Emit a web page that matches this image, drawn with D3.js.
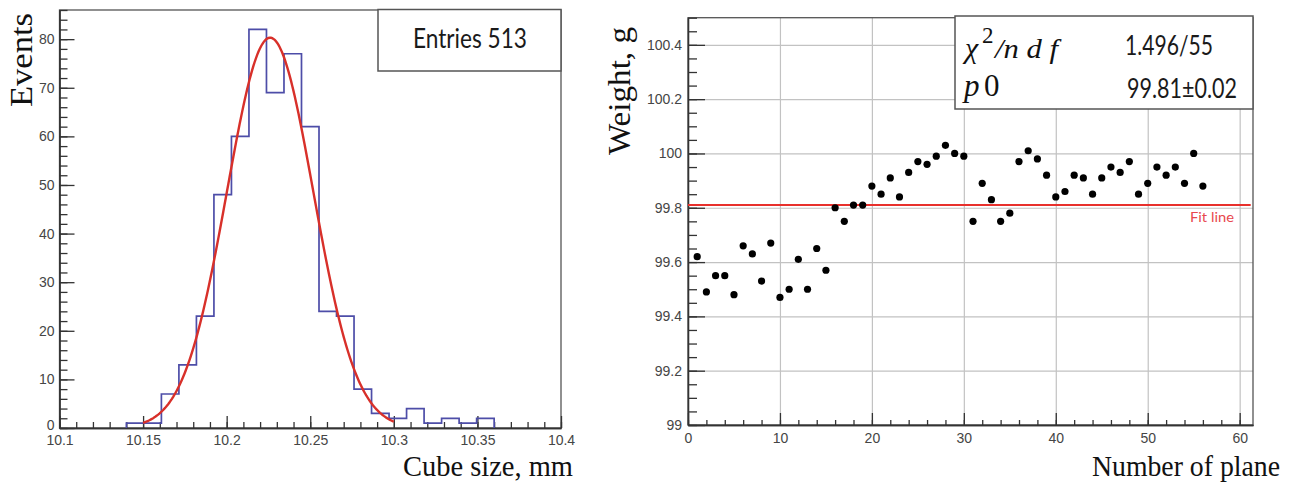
<!DOCTYPE html>
<html>
<head>
<meta charset="utf-8">
<script src="https://cdn.jsdelivr.net/npm/d3@7"></script>
<style>
  body { margin: 0; background: #fff; }
  svg { display: block; }
  .tick text { font-family: 'Liberation Sans', Arial, sans-serif; font-size: 14px; fill: #454545; }
  .axis path, .axis line { stroke: #333; stroke-width: 1.3; }
  .grid line { stroke: #c2c2c2; stroke-width: 1.2; }
  .grid path { display: none; }
  .title { font-family: 'Liberation Serif', 'Times New Roman', serif; fill: #111; }
  .stat { font-family: Lato, 'Open Sans', sans-serif; fill: #1a1a1a; }
</style>
</head>
<body>
<script>
// left: cube size histogram
let binStart = 10.14, binEnd = 10.36;
let counts = [1, 1, 7, 13, 23, 48, 60, 82, 69, 77, 62, 24, 23, 8, 3, 2, 4, 1, 2, 1, 2];
let gaus = { amp: 80.3, mean: 10.226, sigma: 0.0258, from: 10.15, to: 10.30 };
let entries = 513;
let xTicksL = [10.1, 10.15, 10.2, 10.25, 10.3, 10.35, 10.4];
let xLabelsL = ['10.1', '10.15', '10.2', '10.25', '10.3', '10.35', '10.4'];
let yTicksL = [0, 10, 20, 30, 40, 50, 60, 70, 80];

// right: weight per plane
let planes = d3.range(1, 57);
let weights = [99.62, 99.49, 99.55, 99.55, 99.48, 99.66, 99.63, 99.53, 99.67, 99.47,
  99.50, 99.61, 99.50, 99.65, 99.57, 99.80, 99.75, 99.81, 99.81, 99.88,
  99.85, 99.91, 99.84, 99.93, 99.97, 99.96, 99.99, 100.03, 100.00, 99.99,
  99.75, 99.89, 99.83, 99.75, 99.78, 99.97, 100.01, 99.98, 99.92, 99.84,
  99.86, 99.92, 99.91, 99.85, 99.91, 99.95, 99.93, 99.97, 99.85, 99.89,
  99.95, 99.92, 99.95, 99.89, 100.00, 99.88];
let fitValue = '99.81', fitError = '0.02', chi2 = '1.496', ndf = 55;
let xTicksR = [0, 10, 20, 30, 40, 50, 60];
let yTicksR = [99, 99.2, 99.4, 99.6, 99.8, 100, 100.2, 100.4];
let yLabelsR = ['99', '99.2', '99.4', '99.6', '99.8', '100', '100.2', '100.4'];

let svg = d3.select('body').append('svg')
    .attr('width', 1297)
    .attr('height', 483);

// ---------- left panel ----------
let lx = d3.scaleLinear().domain([10.1, 10.4]).range([59.5, 561]);
let ly = d3.scaleLinear().domain([0, 86]).range([428, 10]);

svg.append('rect')
    .attr('x', lx(10.1)).attr('y', ly(86))
    .attr('width', lx(10.4) - lx(10.1)).attr('height', ly(0) - ly(86))
    .attr('fill', 'none').attr('stroke', '#555').attr('stroke-width', 1.3);

svg.append('g').attr('class', 'axis')
    .attr('transform', 'translate(0,' + ly(0) + ')')
    .call(d3.axisBottom(lx).tickValues(d3.range(31).map(i => 10.1 + i * 0.01))
      .tickSize(-6).tickSizeOuter(0).tickFormat(''));
svg.append('g').attr('class', 'axis')
    .attr('transform', 'translate(0,' + ly(0) + ')')
    .call(d3.axisBottom(lx).tickValues(xTicksL).tickSize(-12).tickSizeOuter(0)
      .tickPadding(7).tickFormat((d, i) => xLabelsL[i]));

svg.append('g').attr('class', 'axis')
    .attr('transform', 'translate(' + lx(10.1) + ',0)')
    .call(d3.axisLeft(ly).tickValues(d3.range(0, 87, 2)).tickSize(-8).tickSizeOuter(0).tickFormat(''));
let yAxisL = svg.append('g').attr('class', 'axis')
    .attr('transform', 'translate(' + lx(10.1) + ',0)')
    .call(d3.axisLeft(ly).tickValues(yTicksL).tickSize(-15).tickSizeOuter(0).tickPadding(5));
// the zero label sits a little high, as in the original
yAxisL.selectAll('.tick text').filter(d => d === 0).attr('dy', '0.1em');

// histogram outline
let bw = (binEnd - binStart) / counts.length;
let steps = [[binStart, 0]];
counts.forEach(function(c, i) {
  steps.push([binStart + i * bw, c]);
  steps.push([binStart + (i + 1) * bw, c]);
});
steps.push([binEnd, 0]);

svg.append('path')
    .datum(steps)
    .attr('fill', 'none')
    .attr('stroke', '#4d4da8')
    .attr('stroke-width', 1.7)
    .attr('d', d3.line().x(d => lx(d[0])).y(d => ly(d[1])));

// gaussian fit
let gx = d3.range(0, 201).map(i => gaus.from + (gaus.to - gaus.from) * i / 200);
svg.append('path')
    .datum(gx)
    .attr('fill', 'none')
    .attr('stroke', '#d8302a')
    .attr('stroke-width', 2.4)
    .attr('d', d3.line()
      .x(d => lx(d))
      .y(d => ly(gaus.amp * Math.exp(-0.5 * Math.pow((d - gaus.mean) / gaus.sigma, 2)))));

// stats box
svg.append('rect')
    .attr('x', 378).attr('y', 9.5).attr('width', 183).attr('height', 61.5)
    .attr('fill', '#fff').attr('stroke', '#555').attr('stroke-width', 1.5);
svg.append('text').attr('class', 'stat')
    .attr('x', 413).attr('y', 48)
    .attr('font-size', 26)
    .attr('textLength', 114).attr('lengthAdjust', 'spacingAndGlyphs')
    .text('Entries ' + entries);

svg.append('text').attr('class', 'title')
    .attr('transform', 'translate(32,60) rotate(-90)')
    .attr('text-anchor', 'middle')
    .attr('font-size', 31)
    .attr('textLength', 94).attr('lengthAdjust', 'spacingAndGlyphs')
    .text('Events');
svg.append('text').attr('class', 'title')
    .attr('x', 573).attr('y', 476)
    .attr('text-anchor', 'end')
    .attr('font-size', 30)
    .attr('textLength', 170).attr('lengthAdjust', 'spacingAndGlyphs')
    .text('Cube size, mm');

// ---------- right panel ----------
let rx = d3.scaleLinear().domain([0, 61.45]).range([688, 1253]);
let ry = d3.scaleLinear().domain([99, 100.5]).range([425, 17.7]);

// grid
svg.append('g').attr('class', 'grid')
    .attr('transform', 'translate(0,' + ry(99) + ')')
    .call(d3.axisBottom(rx).tickValues(xTicksR.slice(1)).tickSize(-(ry(99) - ry(100.5))).tickFormat(''));
svg.append('g').attr('class', 'grid')
    .attr('transform', 'translate(' + rx(0) + ',0)')
    .call(d3.axisLeft(ry).tickValues(yTicksR.slice(1)).tickSize(-(rx(61.45) - rx(0))).tickFormat(''));

svg.append('rect')
    .attr('x', rx(0)).attr('y', ry(100.5))
    .attr('width', rx(61.45) - rx(0)).attr('height', ry(99) - ry(100.5))
    .attr('fill', 'none').attr('stroke', '#555').attr('stroke-width', 1.3);

svg.append('g').attr('class', 'axis')
    .attr('transform', 'translate(0,' + ry(99) + ')')
    .call(d3.axisBottom(rx).tickValues(d3.range(0, 62, 2)).tickSize(-5).tickSizeOuter(0).tickFormat(''));
svg.append('g').attr('class', 'axis')
    .attr('transform', 'translate(0,' + ry(99) + ')')
    .call(d3.axisBottom(rx).tickValues(xTicksR).tickSize(-12).tickSizeOuter(0).tickPadding(8));

svg.append('g').attr('class', 'axis')
    .attr('transform', 'translate(' + rx(0) + ',0)')
    .call(d3.axisLeft(ry).tickValues(d3.range(31).map(i => 99 + i * 0.05)).tickSize(-9).tickSizeOuter(0).tickFormat(''));
svg.append('g').attr('class', 'axis')
    .attr('transform', 'translate(' + rx(0) + ',0)')
    .call(d3.axisLeft(ry).tickValues(yTicksR).tickSize(-17).tickSizeOuter(0).tickPadding(6)
      .tickFormat((d, i) => yLabelsR[i]));

// fit line
svg.append('line')
    .attr('x1', rx(0)).attr('x2', rx(61.2))
    .attr('y1', ry(+fitValue)).attr('y2', ry(+fitValue))
    .attr('stroke', '#e8302c').attr('stroke-width', 2);
svg.append('text').attr('class', 'stat')
    .attr('x', 1190).attr('y', 222)
    .attr('font-size', 13).style('fill', '#e8474d')
    .attr('textLength', 44).attr('lengthAdjust', 'spacingAndGlyphs')
    .text('Fit line');

// points
svg.append('g').selectAll('circle')
    .data(weights)
  .enter().append('circle')
    .attr('cx', (d, i) => rx(planes[i]))
    .attr('cy', d => ry(d))
    .attr('r', 3.6)
    .attr('fill', '#000');

// stats box
svg.append('rect')
    .attr('x', 955).attr('y', 16).attr('width', 298).attr('height', 93)
    .attr('fill', '#fff').attr('stroke', '#555').attr('stroke-width', 1.5);

let chiText = svg.append('text').attr('class', 'title')
    .attr('y', 58).attr('font-style', 'italic').attr('font-size', 30);
chiText.append('tspan').attr('x', 965).text('χ');
chiText.append('tspan').attr('x', 982).attr('dy', -15).attr('font-size', 23).attr('font-style', 'normal').text('2');
chiText.append('tspan').attr('x', 995).attr('dy', 15).attr('font-size', 27)
    .attr('textLength', 63).attr('lengthAdjust', 'spacingAndGlyphs').text('/n d f');

let pText = svg.append('text').attr('class', 'title')
    .attr('y', 96).attr('font-size', 31);
pText.append('tspan').attr('x', 964).attr('font-style', 'italic').text('p');
pText.append('tspan').attr('x', 984).text('0');

svg.append('text').attr('class', 'stat')
    .attr('x', 1125).attr('y', 55).attr('font-size', 27)
    .attr('textLength', 88).attr('lengthAdjust', 'spacingAndGlyphs')
    .text(chi2 + '/' + ndf);
svg.append('text').attr('class', 'stat')
    .attr('x', 1127).attr('y', 98).attr('font-size', 27)
    .attr('textLength', 110).attr('lengthAdjust', 'spacingAndGlyphs')
    .text(fitValue + '±' + fitError);

svg.append('text').attr('class', 'title')
    .attr('transform', 'translate(630,91) rotate(-90)')
    .attr('text-anchor', 'middle')
    .attr('font-size', 31)
    .attr('textLength', 128).attr('lengthAdjust', 'spacingAndGlyphs')
    .text('Weight, g');
svg.append('text').attr('class', 'title')
    .attr('x', 1280).attr('y', 476)
    .attr('text-anchor', 'end')
    .attr('font-size', 29)
    .attr('textLength', 188).attr('lengthAdjust', 'spacingAndGlyphs')
    .text('Number of plane');
</script>
</body>
</html>
